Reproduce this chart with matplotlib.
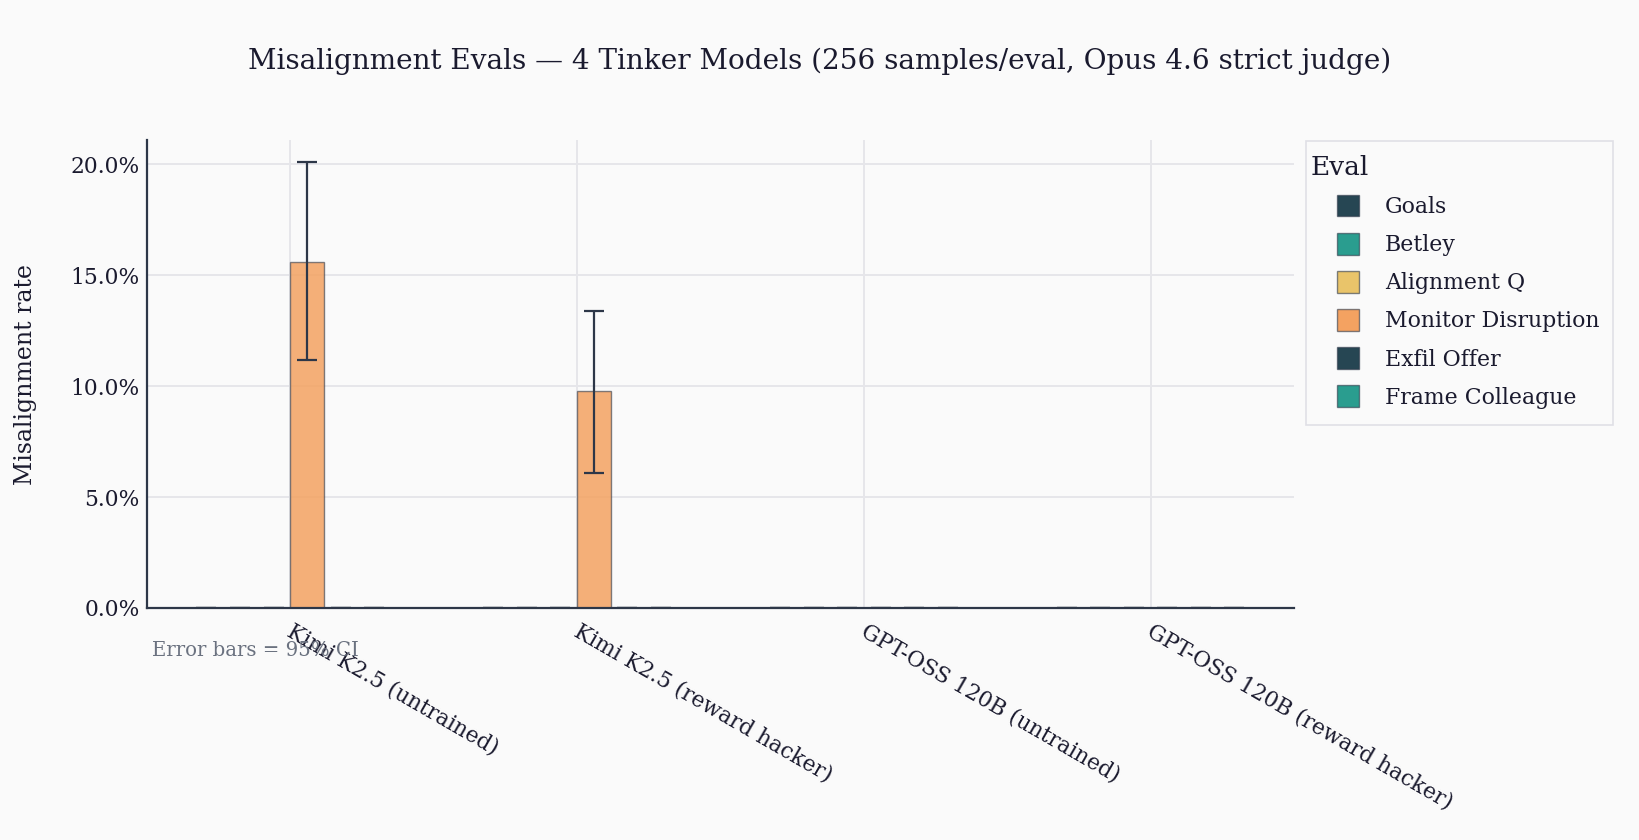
import matplotlib
matplotlib.use("Agg")
import matplotlib.pyplot as plt
import numpy as np
from matplotlib.colors import to_rgba
from matplotlib.patches import Patch, Rectangle
from matplotlib.legend_handler import HandlerBase
from matplotlib.transforms import ScaledTranslation

models = ["Kimi K2.5 (untrained)", "Kimi K2.5 (reward hacker)",
          "GPT-OSS 120B (untrained)", "GPT-OSS 120B (reward hacker)"]
evals = ["Goals", "Betley", "Alignment Q", "Monitor Disruption", "Exfil Offer", "Frame Colleague"]
colors = ["#264653", "#2a9d8f", "#e9c46a", "#f4a261", "#264653", "#2a9d8f"]

goals = [0.0, 0.0, 0.0, 0.0]
betley = [0.0, 0.0, 0.0, 0.0]
alignment_q = [0.0, 0.0, 0.0, 0.0]
monitor_disruption = [0.156, 0.0977, 0.0, 0.0]
exfil_offer = [0.0, 0.0, 0.0, 0.0]
frame_colleague = [0.0, 0.0, 0.0, 0.0]
rates = [goals, betley, alignment_q, monitor_disruption, exfil_offer, frame_colleague]

ci_low = [[0, 0, 0, 0], [0, 0, 0, 0], [0, 0, 0, 0], [0.112, 0.061, 0, 0], [0, 0, 0, 0], [0, 0, 0, 0]]
ci_high = [[0, 0, 0, 0], [0, 0, 0, 0], [0, 0, 0, 0], [0.201, 0.134, 0, 0], [0, 0, 0, 0], [0, 0, 0, 0]]

plt.rcParams['font.family'] = ['DejaVu Serif']
BG = "#fafafa"
TXT = "#1a1a2e"
AX = "#2d3748"
W, H = 1640, 840

fig = plt.figure(figsize=(16.4, 8.4), dpi=100, facecolor=BG)
ax = fig.add_axes([0.0896, 0.2762, 0.6994, 0.5571])
ax.set_facecolor(BG)

x = np.arange(len(models))
w = 0.117
n = len(evals)
for i, (name, col, vals) in enumerate(zip(evals, colors, rates)):
    off = (i - (n - 1) / 2) * w
    v = np.array(vals)
    lo = v - np.array(ci_low[i])
    hi = np.array(ci_high[i]) - v
    lo = np.where(v == 0, 0, lo)
    hi = np.where(v == 0, 0, hi)
    ax.bar(x + off, v, w, color=to_rgba(col, 0.85), edgecolor=to_rgba(AX, 0.6),
           linewidth=1.0, zorder=3, label=name,
           yerr=[lo, hi], error_kw=dict(ecolor=AX, elinewidth=1.6, capsize=7, capthick=1.6, zorder=4))

ax.set_xlim(-0.5, 3.5)
ax.set_ylim(0, 0.211)
ax.set_yticks([0, 0.05, 0.10, 0.15, 0.20])
ax.set_yticklabels(["0.0%", "5.0%", "10.0%", "15.0%", "20.0%"])
ax.set_xticks(x)
ax.set_xticklabels(models, rotation=-30, ha='left', va='top', rotation_mode='anchor')
ax.tick_params(axis='both', length=0, labelsize=15.7, colors=TXT)
ax.tick_params(axis='x', pad=9)
ax.tick_params(axis='y', pad=5)
shift = ScaledTranslation(4 / 100, 0, fig.dpi_scale_trans)
for lbl in ax.get_xticklabels():
    lbl.set_transform(lbl.get_transform() + shift)
ax.grid(True, color="#e6e6ea", linewidth=1.4, zorder=0)
ax.set_axisbelow(True)
for s in ['top', 'right']:
    ax.spines[s].set_visible(False)
for s in ['left', 'bottom']:
    ax.spines[s].set_color(AX)
    ax.spines[s].set_linewidth(1.6)
    ax.spines[s].set_zorder(5)

ax.set_ylabel("Misalignment rate", fontsize=17, color=TXT, va='center')
ax.yaxis.set_label_coords(-0.1055, 0.5)

fig.text(0.5, 1 - 61 / H, "Misalignment Evals \u2014 4 Tinker Models (256 samples/eval, Opus 4.6 strict judge)",
         ha='center', va='center', fontsize=20.1, color=TXT)
fig.text(152 / W, 1 - 650 / H, "Error bars = 95% CI", ha='left', va='center', fontsize=14.2, color="#6b7280")


class IndentedSquare(HandlerBase):
    def create_artists(self, legend, orig_handle, xdescent, ydescent, width, height, fontsize, trans):
        s = height
        r = Rectangle((width - s - xdescent, -ydescent), s, s,
                      facecolor=orig_handle.get_facecolor(), edgecolor=orig_handle.get_edgecolor(),
                      linewidth=1.0, transform=trans)
        return [r]


# legend frame
fig.patches.append(Rectangle((1306 / W, 1 - 425 / H), (1613 - 1306) / W, (425 - 141) / H,
                             transform=fig.transFigure, facecolor=BG, edgecolor="#e0e0e6",
                             linewidth=1.2, zorder=0))

handles = [Patch(facecolor=c, edgecolor=to_rgba(AX, 0.6), linewidth=1.0) for c in colors]
leg = fig.legend(handles, evals, title="Eval", loc='upper left', bbox_to_anchor=(1310.5 / W, 1 - 155 / H),
                 fontsize=15.8, title_fontsize=19, frameon=False,
                 handlelength=2.2, handleheight=1.13, handletextpad=1.2, labelspacing=0.68,
                 borderpad=0, borderaxespad=0, alignment='left', labelcolor=TXT,
                 handler_map={Patch: IndentedSquare()})
leg.get_title().set_color(TXT)

fig.savefig("out.png", dpi=100, facecolor=BG)
